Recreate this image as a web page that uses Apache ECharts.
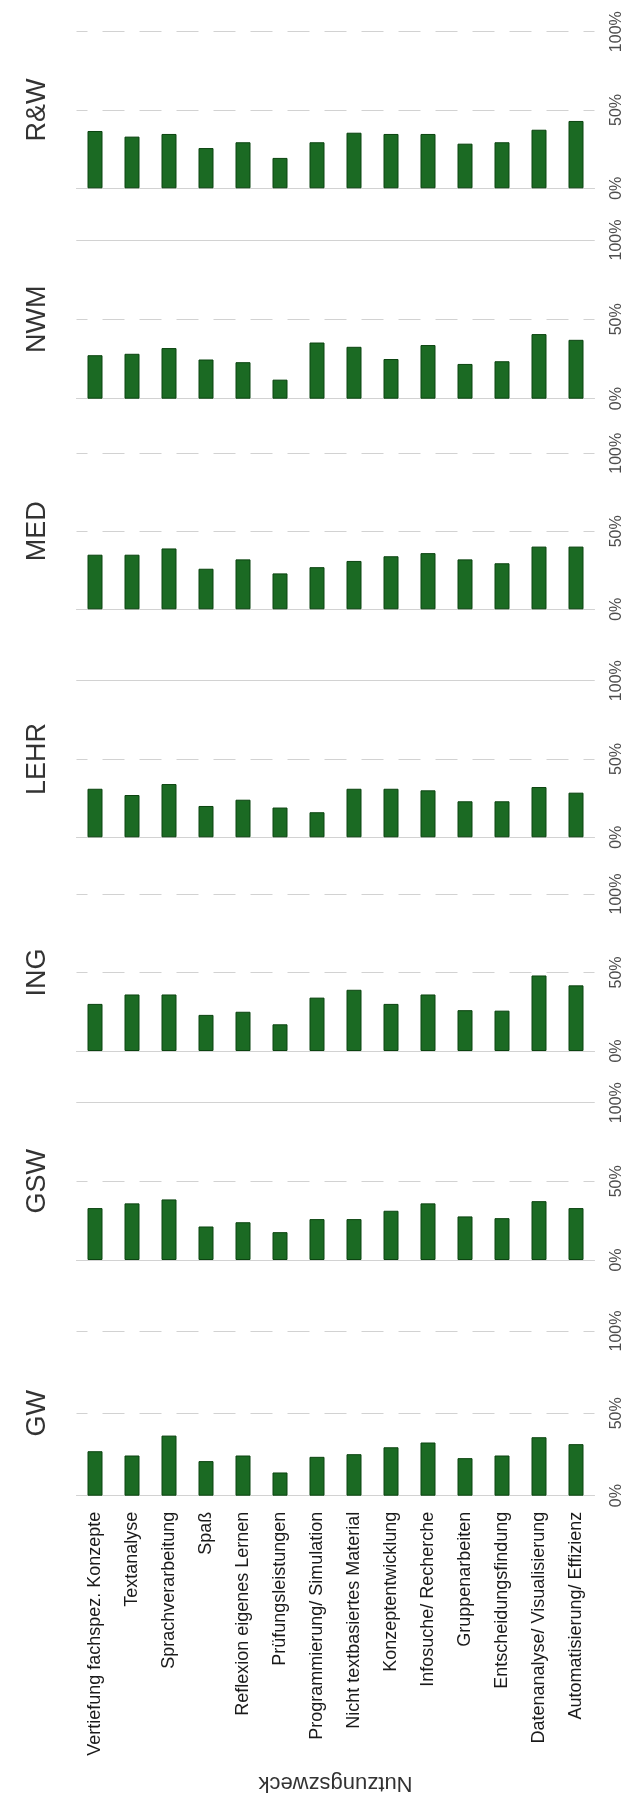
<!DOCTYPE html>
<html>
<head>
<meta charset="utf-8">
<script src="https://cdn.jsdelivr.net/npm/echarts@6/dist/echarts.min.js"></script>
<style>
html,body{margin:0;padding:0;background:#fff;}
#c{width:626px;height:1798px;}
</style>
</head>
<body>
<div id="c"></div>
<script>
const categories = ['Vertiefung fachspez. Konzepte','Textanalyse','Sprachverarbeitung','Spaß','Reflexion eigenes Lernen','Prüfungsleistungen','Programmierung/ Simulation','Nicht textbasiertes Material','Konzeptentwicklung','Infosuche/ Recherche','Gruppenarbeiten','Entscheidungsfindung','Datenanalyse/ Visualisierung','Automatisierung/ Effizienz'];
const panelNames = ['R&W','NWM','MED','LEHR','ING','GSW','GW'];
const valuesRW   = [36.6, 33.0, 34.7, 25.7, 29.4, 19.4, 29.4, 35.5, 34.7, 34.7, 28.5, 29.4, 37.4, 43.0];
const valuesNWM  = [27.4, 28.3, 31.9, 24.7, 23.0, 12.0, 35.4, 32.7, 25.0, 33.8, 21.9, 23.6, 40.7, 37.1];
const valuesMED  = [35.0, 35.0, 39.0, 26.0, 32.0, 23.0, 27.0, 31.0, 34.0, 36.0, 32.0, 29.5, 40.2, 40.2];
const valuesLEHR = [31.0, 27.0, 34.0, 20.0, 24.0, 19.0, 16.0, 31.0, 31.0, 30.0, 23.0, 23.0, 32.1, 28.5];
const valuesING  = [30.0, 36.0, 36.0, 23.0, 25.0, 17.0, 34.0, 39.0, 30.0, 36.0, 26.0, 25.7, 48.1, 41.8];
const valuesGSW  = [33.0, 36.0, 38.5, 21.3, 24.0, 17.7, 26.0, 26.0, 31.3, 36.0, 27.7, 26.6, 37.4, 33.0];
const valuesGW   = [27.0, 24.4, 36.5, 21.0, 24.4, 14.1, 23.6, 25.2, 29.4, 32.3, 22.8, 24.4, 35.5, 31.3];
const tickLabels = ['0%','50%','100%'];
const axisTitle = 'Nutzungszweck';

const panelValues = [valuesRW, valuesNWM, valuesMED, valuesLEHR, valuesING, valuesGSW, valuesGW];
// layout (px): top and bottom of each panel
const panelTops    = [31.7, 240, 453.3, 680.7, 894, 1102.7, 1331];
const panelBottoms = [188.3, 398.7, 609.3, 837.3, 1051, 1260, 1495.7];
const solidTop     = [false, true, false, true, false, true, false];
const gridLeft = 76.5, gridWidth = 518;
const gridColor = '#d2d2d2';

const chart = echarts.init(document.getElementById('c'), null, {renderer:'canvas'});
const grid = [], xAxis = [], yAxis = [], series = [];
panelNames.forEach((name, i) => {
  grid.push({left: gridLeft, width: gridWidth, top: panelTops[i], height: panelBottoms[i] - panelTops[i], containLabel:false});
  const last = i === panelNames.length - 1;
  xAxis.push({
    type:'category', gridIndex:i, data:categories, position:'bottom',
    axisLine:{show:true, lineStyle:{color:gridColor, width:1}},
    axisTick:{show:false},
    axisLabel:{show:last, rotate:90, interval:0, margin:16, fontSize:18, color:'#1a1a1a', fontFamily:'Liberation Sans, Arial, sans-serif'},
    splitLine:{show:false}
  });
  yAxis.push({
    type:'value', gridIndex:i, position:'right', min:0, max:100, interval:50,
    axisLine:{show:false}, axisTick:{show:false},
    axisLabel:{rotate:90, margin:14, fontSize:16, color:'#4d4d4d', fontFamily:'Liberation Sans, Arial, sans-serif',
      formatter: v => tickLabels[v/50]},
    splitLine:{show:true, lineStyle:{color:gridColor, width:1, type:[22,15], dashOffset:11}}
  });
  yAxis.push({
    type:'value', gridIndex:i, position:'left', min:0, max:1,
    axisLine:{show:false}, axisTick:{show:false}, axisLabel:{show:false}, splitLine:{show:false},
    name:name, nameLocation:'middle', nameRotate:90, nameGap:25,
    nameTextStyle:{fontSize:27, color:'#333', fontFamily:'Liberation Sans, Arial, sans-serif'}
  });
  const s = {
    type:'bar', xAxisIndex:i, yAxisIndex:2*i, data:panelValues[i],
    barWidth:15,
    itemStyle:{color:'#1b6a23', borderColor:'#0b4410', borderWidth:1},
    silent:true, animation:false
  };
  if (solidTop[i]) {
    s.markLine = {silent:true, symbol:'none', label:{show:false},
      lineStyle:{color:gridColor, type:'solid', width:1},
      data:[{yAxis:100}], animation:false};
  }
  series.push(s);
});

chart.setOption({
  animation:false,
  grid, xAxis, yAxis, series,
  graphic:[{
    type:'text', x: gridLeft + gridWidth/2, y: 1783, rotation: Math.PI,
    style:{text: axisTitle, fontSize:22, fill:'#333', align:'center', verticalAlign:'middle', fontFamily:'Liberation Sans, Arial, sans-serif'}
  }]
});
</script>
</body>
</html>
